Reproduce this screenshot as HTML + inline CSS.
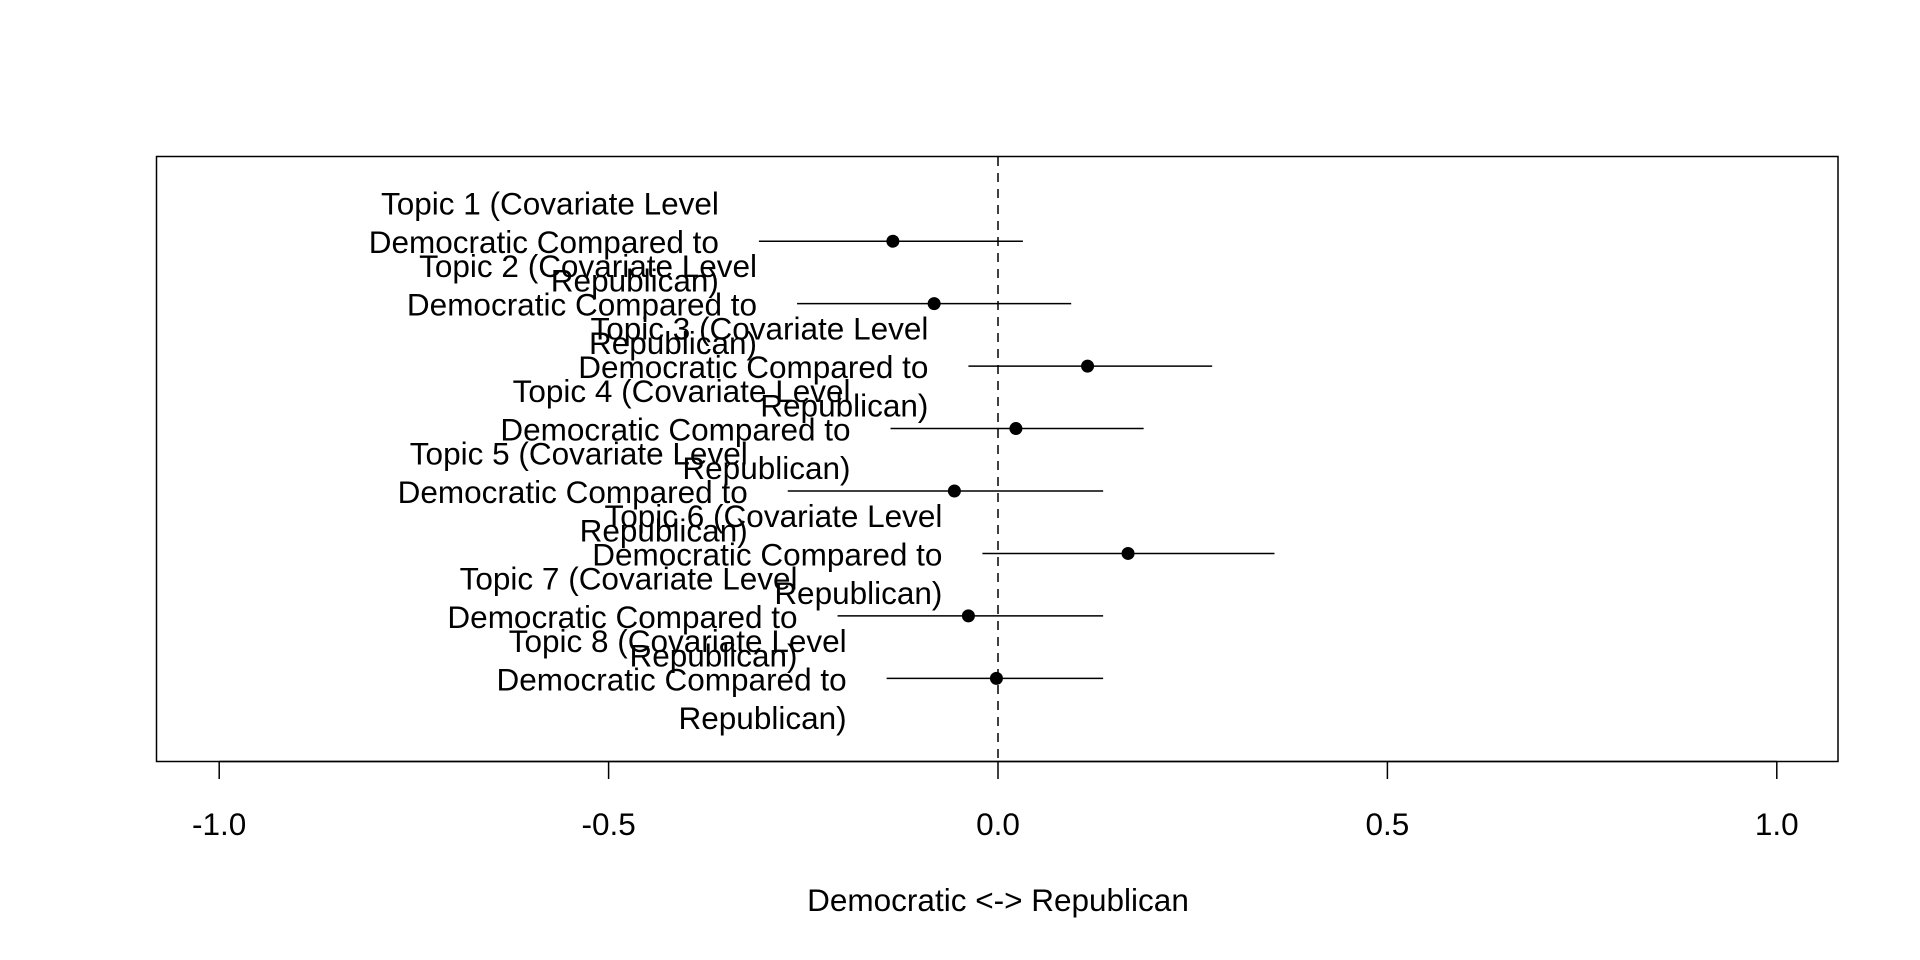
<!DOCTYPE html>
<html><head><meta charset="utf-8"><style>
html,body{margin:0;padding:0;background:#fff;}
svg{display:block;font-family:"Liberation Sans",Arial,sans-serif;}
</style></head><body>
<svg id="chart" width="1920" height="960" viewBox="0 0 1920 960">
<rect x="156.5" y="156.5" width="1681.5" height="605" fill="none" stroke="#000" stroke-width="1.5"/>
<g id="g"></g>
<text x="998" y="911" font-size="31.5" text-anchor="middle">Democratic &lt;-&gt; Republican</text>
</svg>
<script>
const topics = ["Topic 1","Topic 2","Topic 3","Topic 4","Topic 5","Topic 6","Topic 7","Topic 8"];
const means = [-0.135,-0.082,0.115,0.023,-0.056,0.167,-0.038,-0.002];
const lowers = [-0.307,-0.258,-0.038,-0.138,-0.270,-0.020,-0.206,-0.143];
const uppers = [0.032,0.094,0.275,0.187,0.135,0.355,0.135,0.135];
const ticks = [-1.0,-0.5,0.0,0.5,1.0];
const tickLabels = ["-1.0","-0.5","0.0","0.5","1.0"];

const NS="http://www.w3.org/2000/svg";
const g=document.getElementById('g');
const xs=v=>998+v*778.8;
const ys=i=>241.2+i*62.45;
function mk(tag,attrs){const e=document.createElementNS(NS,tag);for(const k in attrs)e.setAttribute(k,attrs[k]);g.appendChild(e);return e;}

let z=mk('line',{x1:xs(0),x2:xs(0),y1:157,y2:761,stroke:'#000','stroke-width':1.5,'stroke-dasharray':'9,7'});



let ax=mk('line',{x1:xs(ticks[0]),x2:xs(ticks[ticks.length-1]),y1:761.5,y2:761.5,stroke:'#000','stroke-width':1.5});


ticks.forEach((t,i)=>{
  const l=mk('line',{x1:xs(t),x2:xs(t),y1:761,y2:779,stroke:'#000','stroke-width':1.5});
  
  
  const tx=mk('text',{x:xs(t),y:835,'font-size':31.5,'text-anchor':'middle'});
  tx.textContent=tickLabels[i];
  
  
});

topics.forEach((tp,i)=>{
  const y=ys(i);
  const ci=mk('line',{x1:xs(lowers[i]),x2:xs(uppers[i]),y1:y,y2:y,stroke:'#000','stroke-width':1.5});
  
  
  const p=mk('circle',{cx:xs(means[i]),cy:y,r:6.5,fill:'#000'});
  
  
  const rx=xs(lowers[i])-40;
  const lines=[tp+" (Covariate Level","Democratic Compared to","Republican)"];
  lines.forEach((s,k)=>{
    const t=mk('text',{x:rx,y:y+(k-1)*38.5+12,'font-size':31.5,'text-anchor':'end'});
    t.textContent=s;
    
    
  });
});
</script>
</body></html>
